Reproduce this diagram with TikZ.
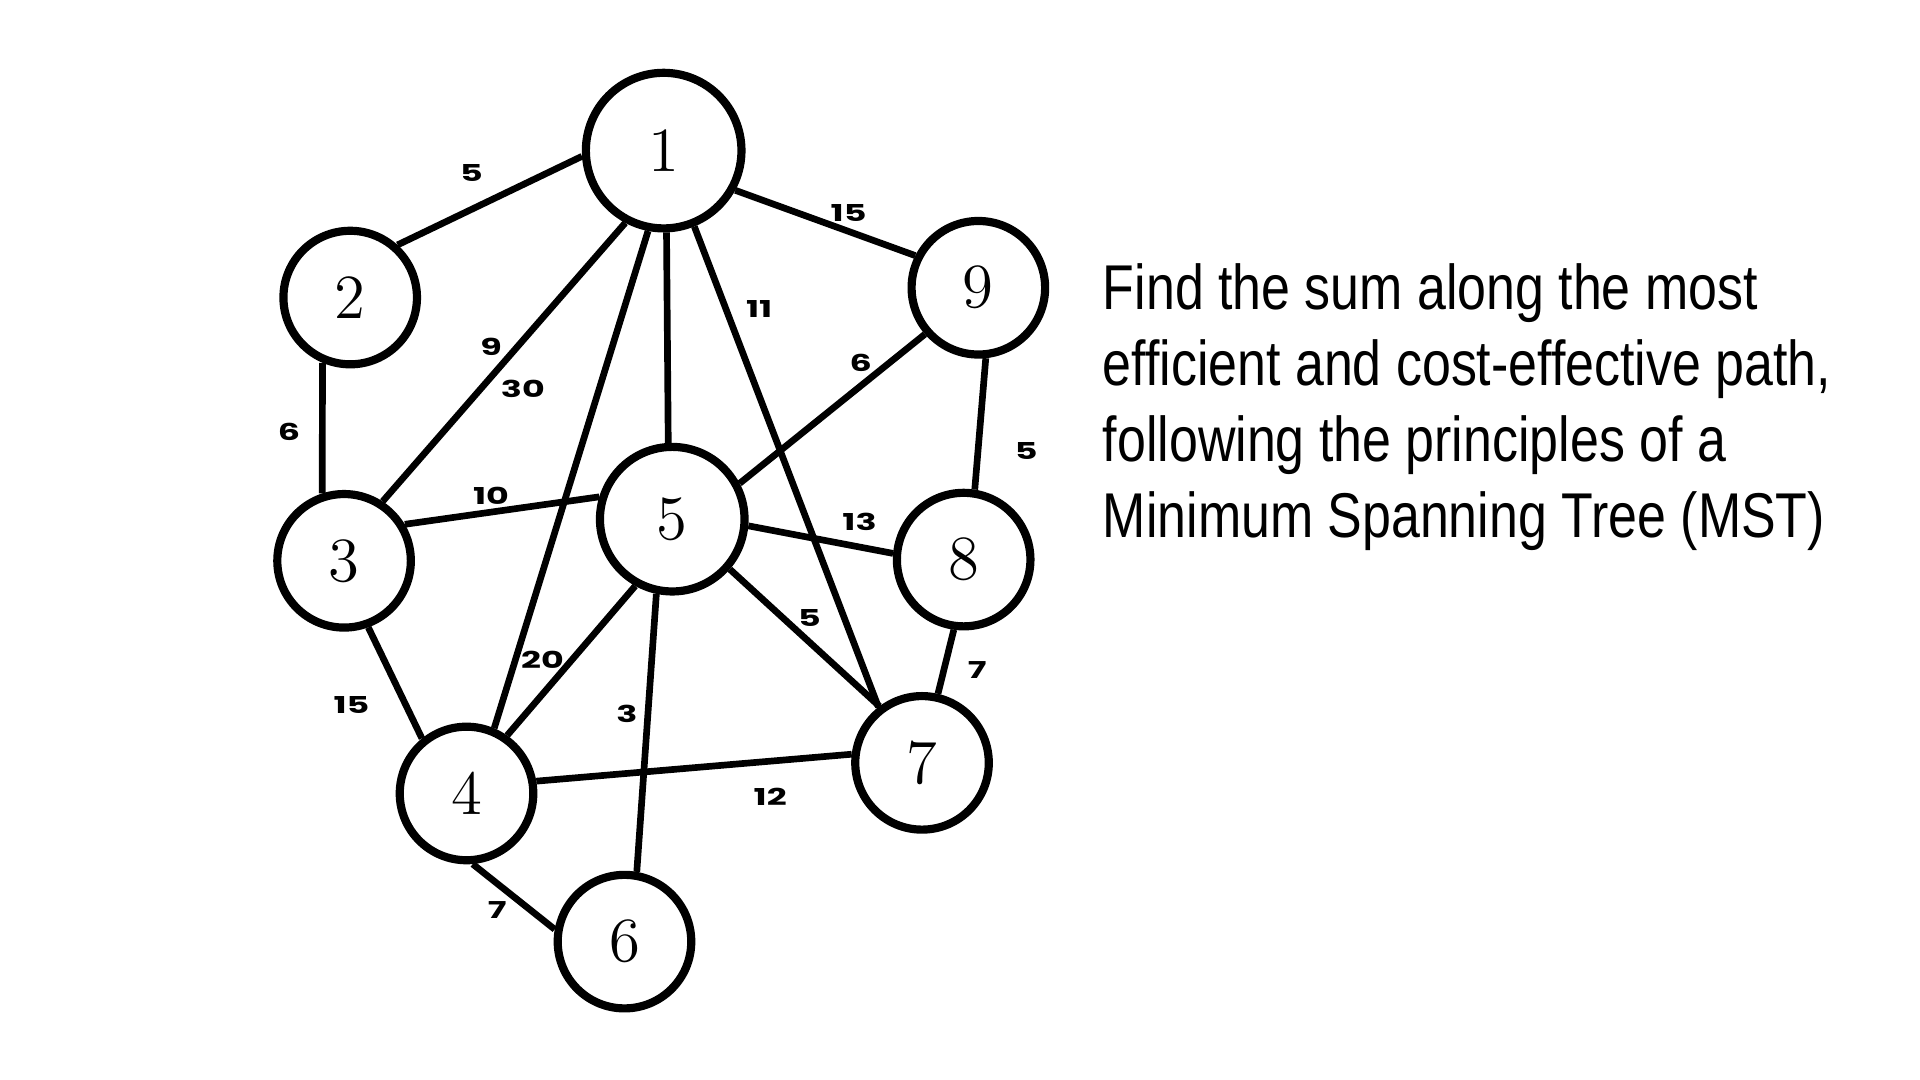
\documentclass[tikz,border=0pt]{standalone}
\usepackage{fontspec}
\newfontfamily\pesofont[FakeStretch=1.5]{Poppins}
\newfontfamily\testofont[FakeStretch=0.82]{Liberation Sans}
\begin{document}
\begin{tikzpicture}[
			x=0.01cm, y=-0.01cm,
			vertice/.style={circle, draw=black, fill=white,
				line width=1.9pt, minimum size=1.09cm,
				inner sep=0pt, font=\fontsize{14.6}{16}\selectfont},
			arco/.style={line width=1.55pt, black},
			peso/.style={inner sep=0pt,
				font={\pesofont\bfseries\fontsize{5.4}{6}\selectfont}},
			testo/.style={anchor=base west, inner sep=0pt,
				font={\testofont\fontsize{14.7}{17.6}\selectfont}}]
			
			\useasboundingbox (0,0) rectangle (1568,882);
			
			\def\dy{62}                        %% passo fra le righe del testo
			
			%% --- vertici ---
			\node[vertice, minimum size=1.27cm] (n1) at (542,123) {1};
			\node[vertice] (n2) at (286,243) {2};
			\node[vertice] (n3) at (281,458) {3};
			\node[vertice] (n4) at (381,648) {4};
			\node[vertice, minimum size=1.18cm] (n5) at (549,424) {5};
			\node[vertice] (n6) at (510,769) {6};
			\node[vertice] (n7) at (753,623) {7};
			\node[vertice] (n8) at (787,457) {8};
			\node[vertice] (n9) at (799,235) {9};
			
			%% --- archi dal vertice 1 ---
			\draw[arco] (n1.184)  -- (n2.48);
			\draw[arco] (n1.-29)  -- (n9.153);
			\draw[arco] (n1.-118) -- (n3.57);
			\draw[arco] (n1.-101) -- (n4.67);
			\draw[arco] (n1.-88)  -- (n5.93);
			\draw[arco] (n1.-68)  -- (n7.128);
			
			%% --- archi dal vertice 5 ---
			\draw[arco] (n9.-139) -- (n5.28);
			\draw[arco] (n3.31)   -- (n5.163);
			\draw[arco] (n5.-5)   -- (n8.175);
			\draw[arco] (n5.-41)  -- (n7.127);
			\draw[arco] (n5.-119) -- (n4.55);
			\draw[arco] (n5.-102) -- (n6.80);
			
			%% --- archi esterni ---
			\draw[arco] (n2.-113) -- (n3.108);
			\draw[arco] (n9.-84)  -- (n8.81);
			\draw[arco] (n8.-98)  -- (n7.77);
			\draw[arco] (n3.-70)  -- (n4.129);
			\draw[arco] (n4.10)   -- (n7.173);
			\draw[arco] (n4.-85)  -- (n6.170);
			
			%% --- pesi ---
			\node[peso] (w12) at (385,141) {5};
			\node[peso] (w19) at (693,174) {15};
			\node[peso] (w17) at (620,252) {11};
			\node[peso] (w13) at (401,283) {9};
			\node[peso] (w14) at (427,318) {30};
			\node[peso] (w95) at (703,296) {6};
			\node[peso] (w23) at (236,353) {6};
			\node[peso] (w98) at (838,368) {5};
			\node[peso] (w35) at (401,405) {10};
			\node[peso] (w58) at (702,426) {13};
			\node[peso] (w57) at (661,505) {5};
			\node[peso] (w87) at (798,547) {7};
			\node[peso] (w54) at (443,539) {20};
			\node[peso] (w34) at (287,576) {15};
			\node[peso] (w56) at (512,583) {3};
			\node[peso] (w47) at (629,651) {12};
			\node[peso] (w46) at (406,743) {7};
			
			%% --- testo a destra ---
			\node[testo] (riga1) at (900,253)       {Find the sum along the most};
			\node[testo] (riga2) at (900,253+\dy)   {efficient and cost-effective path,};
			\node[testo] (riga3) at (900,253+2*\dy) {following the principles of a};
			\node[testo] (riga4) at (900,253+3*\dy) {Minimum Spanning Tree (MST)};
			
		\end{tikzpicture}
\end{document}
